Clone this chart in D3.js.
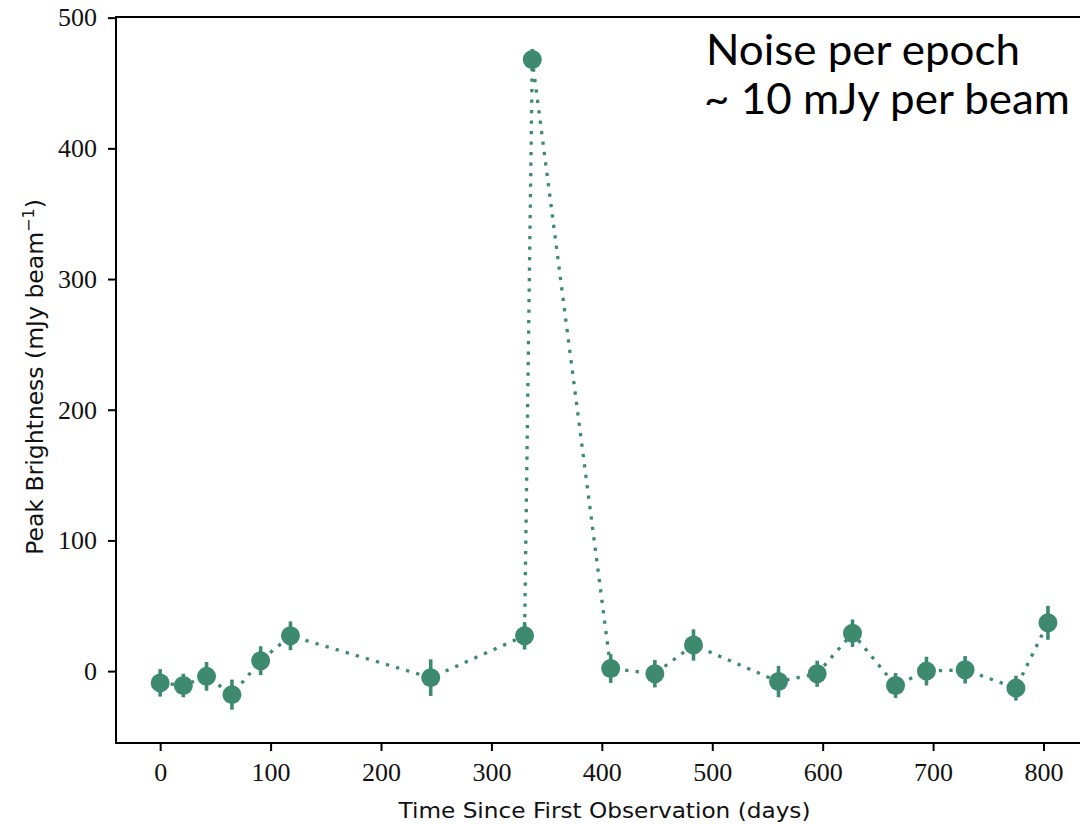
<!DOCTYPE html>
<html>
<head>
<meta charset="utf-8">
<script src="https://cdn.jsdelivr.net/npm/d3@7"></script>
<style>
  html, body { margin: 0; padding: 0; background: #fff; }
  svg { display: block; }
</style>
</head>
<body>
<svg id="chart" width="1080" height="826"></svg>
<script>
// ---- data ----
const days   = [0, 21, 42, 65, 91, 118, 245, 330, 337, 408, 448, 483, 560, 595, 627, 666, 694, 729, 775, 804];
const peak   = [-9, -11, -4, -18, 8, 27, -5, 27, 468, 2, -2, 20, -8, -2, 29, -11, 0, 1, -13, 37];
const errors = [10.5, 9, 11, 11.5, 11, 11, 14, 10.5, 8, 11, 10.5, 12, 12, 10, 10.5, 9.5, 11, 10.5, 9.5, 13];
const xTicks = [0, 100, 200, 300, 400, 500, 600, 700, 800];
const yTicks = [0, 100, 200, 300, 400, 500];
const xTitle = "Time Since First Observation (days)";
const noteLines = ["Noise per epoch", "~ 10 mJy per beam"];

const color = "#3e8a6e";
const svg = d3.select("#chart");

const pL = 116, pR = 1091, pT = 17, pB = 743;
const x = d3.scaleLinear().domain([-40, 843]).range([pL, pR]);
const y = d3.scaleLinear().domain([-55, 500.5]).range([pB, pT]);

const pts = days.map((d, i) => ({ d, v: peak[i], e: errors[i] }));

// dotted connecting line
svg.append("path")
  .datum(pts)
  .attr("fill", "none")
  .attr("stroke", color)
  .attr("stroke-width", 3.3)
  .attr("stroke-dasharray", "3.3,7.2")
  .attr("d", d3.line().x(p => x(p.d)).y(p => y(p.v)));

// error bars
svg.append("g").selectAll("line").data(pts).join("line")
  .attr("x1", p => x(p.d)).attr("x2", p => x(p.d))
  .attr("y1", p => y(p.v - p.e)).attr("y2", p => y(p.v + p.e))
  .attr("stroke", color).attr("stroke-width", 3.6);

// markers
svg.append("g").selectAll("circle").data(pts).join("circle")
  .attr("cx", p => x(p.d)).attr("cy", p => y(p.v))
  .attr("r", 9.5).attr("fill", color);

// spines
svg.append("rect")
  .attr("x", pL).attr("y", pT)
  .attr("width", pR - pL).attr("height", pB - pT)
  .attr("fill", "none").attr("stroke", "#000").attr("stroke-width", 2);

// axes
const tickFont = "'Liberation Serif', 'Times New Roman', serif";
const xAxis = svg.append("g").attr("transform", `translate(0,${pB})`)
  .call(d3.axisBottom(x).tickValues(xTicks).tickSize(8).tickPadding(12).tickFormat(d3.format("d")));
const yAxis = svg.append("g").attr("transform", `translate(${pL},0)`)
  .call(d3.axisLeft(y).tickValues(yTicks).tickSize(8).tickPadding(11).tickFormat(d3.format("d")));
[xAxis, yAxis].forEach(a => {
  a.select(".domain").remove();
  a.selectAll(".tick line").attr("stroke", "#000").attr("stroke-width", 2);
  a.selectAll(".tick text").attr("fill", "#111")
    .style("font-family", tickFont).style("font-size", "26px");
});

// axis titles
const titleFont = "'DejaVu Sans', 'Liberation Sans', sans-serif";
svg.append("text")
  .attr("x", (160 + 1043) / 2 + 3).attr("y", 818)
  .attr("text-anchor", "middle")
  .style("font-family", titleFont).style("font-size", "21px").attr("fill", "#111")
  .attr("textLength", 412).attr("lengthAdjust", "spacingAndGlyphs")
  .text(xTitle);

const yt = svg.append("text")
  .attr("transform", "translate(43,377) rotate(-90)")
  .attr("text-anchor", "middle")
  .style("font-family", titleFont).style("font-size", "23.5px").attr("fill", "#111");
yt.append("tspan").text("Peak Brightness (mJy beam");
yt.append("tspan").attr("dy", -9).style("font-size", "16px").text("\u22121");
yt.append("tspan").attr("dy", 9).text(")");

// annotation
const noteFont = "Lato, 'Open Sans', sans-serif";
svg.append("text").attr("x", 706).attr("y", 65)
  .style("font-family", noteFont).style("font-size", "42px").attr("fill", "#000")
  .attr("textLength", 314).attr("lengthAdjust", "spacingAndGlyphs")
  .text(noteLines[0]);
svg.append("text").attr("x", 704).attr("y", 114)
  .style("font-family", noteFont).style("font-size", "42px").attr("fill", "#000")
  .attr("textLength", 366).attr("lengthAdjust", "spacingAndGlyphs")
  .text(noteLines[1]);
</script>
</body>
</html>
